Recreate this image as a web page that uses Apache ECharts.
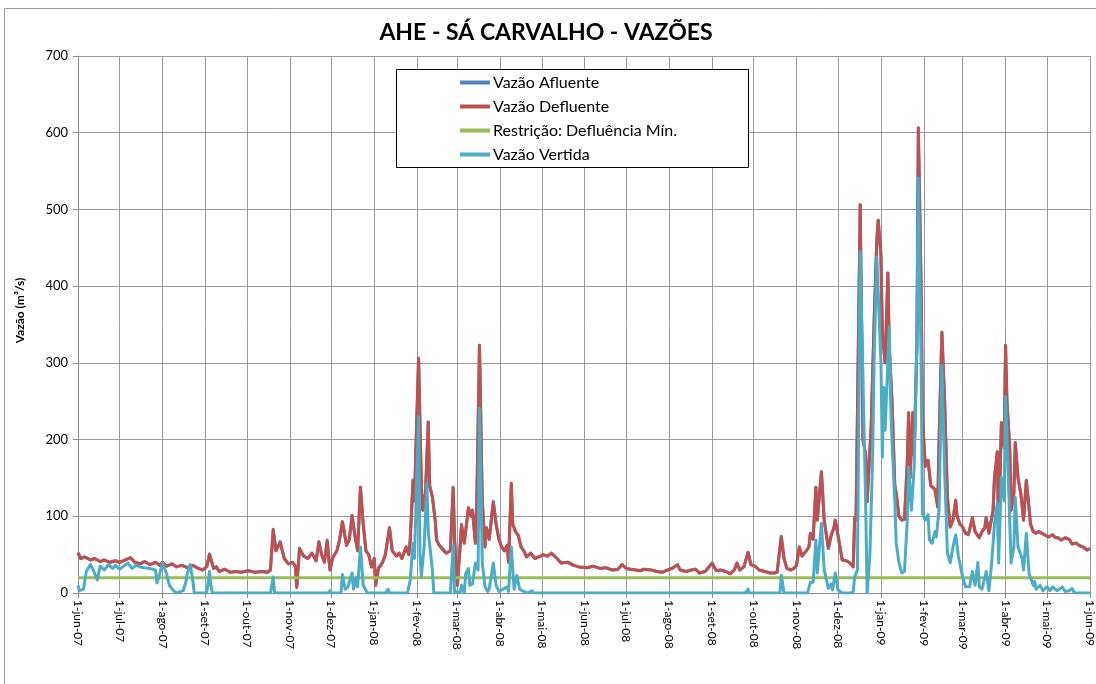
<!DOCTYPE html>
<html>
<head>
<meta charset="utf-8">
<script src="https://cdn.jsdelivr.net/npm/echarts@6/dist/echarts.min.js"></script>
<style>
html,body{margin:0;padding:0;background:#fff;}
#chart{width:1096px;height:684px;}
</style>
</head>
<body>
<div id="chart"></div>
<script>
// ---- data (day index from 1-jun-07, value in m3/s) ----
const meses = ['jan','fev','mar','abr','mai','jun','jul','ago','set','out','nov','dez'];
const nDias = 732; // 1-jun-07 .. 1-jun-09
const titulo = 'AHE - SÁ CARVALHO - VAZÕES';
const nomes = ['Vazão Afluente','Vazão Defluente','Restrição: Defluência Mín.','Vazão Vertida'];
const yTicks = [0,100,200,300,400,500,600,700];

const defluente = [[0,52],[2,45],[5,47],[9,43],[12,45],[16,41],[19,43],[23,40],[27,42],[30,40],[34,43],[38,46],[41,40],[45,38],[48,41],[52,37],[56,40],[59,36],[61,40],[64,35],[68,38],[71,34],[75,36],[79,33],[83,36],[87,32],[90,30],[93,34],[95,50],[98,32],[100,34],[102,28],[106,31],[110,27],[114,28],[118,27],[123,29],[128,27],[133,28],[137,27],[139,30],[141,82],[143,55],[146,66],[149,45],[152,38],[155,40],[157,35],[158,7],[160,58],[163,48],[166,45],[169,52],[172,42],[174,66],[176,50],[178,40],[180,68],[182,30],[184,46],[187,55],[189,70],[191,93],[194,62],[196,70],[198,101],[200,75],[202,55],[204,138],[206,90],[208,55],[210,50],[212,34],[214,45],[215,10],[217,32],[220,40],[222,50],[225,85],[227,55],[230,48],[232,52],[234,45],[237,60],[239,50],[240,70],[242,147],[243,120],[246,306],[248,140],[249,108],[251,130],[253,223],[254,140],[256,125],[258,95],[259,69],[261,62],[264,55],[266,52],[269,55],[271,137],[272,70],[274,10],[276,60],[277,89],[279,65],[282,111],[284,100],[285,108],[287,65],[288,112],[290,323],[292,120],[294,60],[295,85],[297,70],[300,119],[302,90],[304,70],[306,60],[308,55],[310,62],[311,40],[313,143],[314,90],[316,80],[318,75],[320,60],[322,55],[324,47],[327,52],[330,45],[333,47],[336,50],[339,48],[342,52],[346,45],[349,39],[354,40],[358,36],[362,34],[368,33],[372,35],[377,32],[381,33],[386,30],[390,31],[393,37],[396,32],[399,31],[403,30],[406,29],[409,31],[414,30],[418,28],[422,27],[426,30],[429,32],[433,37],[435,30],[439,28],[443,30],[446,31],[449,26],[453,28],[458,39],[461,29],[464,30],[468,28],[471,25],[474,30],[476,39],[478,30],[481,34],[484,53],[486,37],[489,35],[492,30],[496,28],[500,26],[503,26],[505,27],[508,73],[510,45],[512,32],[515,30],[517,32],[519,36],[521,60],[523,48],[526,55],[528,60],[529,78],[531,70],[533,138],[534,95],[537,158],[539,95],[542,58],[544,75],[546,85],[547,95],[549,75],[552,43],[555,42],[557,40],[560,34],[561,98],[562,95],[565,506],[567,200],[569,180],[570,119],[573,220],[575,350],[577,460],[578,486],[580,440],[581,339],[583,300],[585,417],[586,320],[588,250],[590,140],[591,130],[593,100],[595,95],[597,96],[599,170],[600,235],[601,150],[603,235],[604,180],[606,330],[607,606],[609,400],[610,230],[612,165],[613,164],[614,173],[616,140],[617,138],[619,135],[621,112],[622,200],[624,340],[626,250],[628,125],[630,86],[632,95],[634,121],[635,100],[637,90],[639,86],[641,78],[643,76],[644,82],[646,98],[648,80],[651,72],[653,80],[655,85],[656,98],[658,78],[661,108],[662,150],[664,184],[665,80],[667,222],[669,190],[670,323],[671,250],[673,190],[674,108],[676,130],[677,196],[679,150],[681,130],[683,95],[685,147],[687,110],[688,90],[690,80],[692,78],[694,80],[697,77],[699,75],[701,73],[704,76],[706,72],[708,72],[710,69],[713,72],[716,70],[718,64],[721,65],[723,62],[726,60],[729,56],[731,58]];

const afluente = [[0,53],[2,45],[5,47],[9,43],[12,45],[16,41],[19,43],[23,40],[27,42],[30,40],[34,43],[38,46],[41,40],[45,38],[48,41],[52,37],[56,40],[59,36],[61,40],[64,35],[68,38],[71,34],[75,36],[79,33],[83,36],[87,32],[90,30],[93,34],[95,51],[98,32],[100,34],[102,28],[106,31],[110,27],[114,28],[118,27],[123,29],[128,27],[133,28],[137,27],[139,30],[141,83],[143,55],[146,67],[149,45],[152,38],[155,40],[157,35],[158,8],[160,58],[163,48],[166,45],[169,52],[172,42],[174,67],[176,50],[178,40],[180,69],[182,30],[184,46],[187,55],[189,70],[191,93],[194,62],[196,70],[198,101],[200,75],[202,55],[204,138],[206,90],[208,55],[210,50],[212,34],[214,45],[215,10],[217,32],[220,40],[222,50],[225,85],[227,55],[230,48],[232,52],[234,45],[237,60],[239,50],[240,70],[242,147],[243,120],[246,306],[248,140],[249,108],[251,130],[253,223],[254,140],[256,125],[258,95],[259,69],[261,62],[264,57],[266,52],[269,55],[271,138],[272,70],[274,10],[276,60],[277,89],[279,65],[282,111],[284,100],[285,108],[287,65],[288,112],[290,323],[292,120],[294,60],[295,85],[297,70],[300,119],[302,90],[304,70],[306,60],[308,55],[310,62],[311,40],[313,143],[314,90],[316,80],[318,75],[320,60],[322,55],[324,47],[327,52],[330,45],[333,47],[336,50],[339,48],[342,52],[346,45],[349,39],[354,40],[358,36],[362,34],[368,33],[372,35],[377,32],[381,33],[386,30],[390,31],[393,37],[396,32],[399,31],[403,30],[406,29],[409,31],[414,30],[418,28],[422,27],[426,30],[429,32],[433,37],[435,30],[439,28],[443,30],[446,31],[449,26],[453,28],[458,39],[461,29],[464,30],[468,28],[471,25],[474,30],[476,39],[478,30],[481,34],[484,53],[486,37],[489,35],[492,30],[496,28],[500,26],[503,26],[505,27],[508,74],[510,45],[512,32],[515,30],[517,32],[519,36],[521,60],[523,48],[526,55],[528,60],[529,78],[531,70],[533,138],[534,95],[537,158],[539,95],[542,58],[544,75],[546,85],[547,95],[549,75],[552,43],[555,42],[557,40],[560,34],[561,98],[562,95],[565,506],[567,200],[569,180],[570,119],[573,220],[575,350],[577,460],[578,486],[580,440],[581,339],[583,300],[585,417],[586,320],[588,250],[590,140],[591,130],[593,100],[595,95],[597,96],[599,170],[600,235],[601,150],[603,235],[604,180],[606,330],[607,606],[609,400],[610,230],[612,165],[613,164],[614,173],[616,140],[617,138],[619,135],[621,112],[622,200],[624,340],[626,250],[628,125],[630,86],[632,95],[634,121],[635,100],[637,90],[639,86],[641,78],[643,76],[644,82],[646,98],[648,80],[651,72],[653,80],[655,85],[656,98],[658,78],[661,108],[662,150],[664,184],[665,80],[667,222],[669,190],[670,323],[671,250],[673,190],[674,108],[676,130],[677,196],[679,150],[681,130],[683,95],[685,147],[687,110],[688,90],[690,80],[692,78],[694,80],[697,77],[699,75],[701,73],[704,76],[706,72],[708,72],[710,69],[713,72],[716,70],[718,64],[721,65],[723,62],[726,60],[729,56],[731,58]];

const restricao = [[0,20],[731,20]];

const vertida = [[0,10],[1,3],[4,5],[6,28],[9,37],[11,30],[14,17],[16,35],[19,30],[22,37],[25,32],[27,36],[30,31],[33,35],[36,39],[39,32],[42,36],[45,34],[48,33],[52,32],[56,30],[57,13],[59,25],[61,39],[64,25],[66,10],[69,3],[71,0],[76,3],[78,15],[79,26],[81,37],[83,15],[84,0],[93,0],[95,28],[96,10],[97,0],[139,0],[141,21],[142,0],[181,0],[182,3],[183,0],[190,0],[191,24],[193,5],[195,8],[196,10],[198,26],[199,5],[201,20],[202,8],[204,60],[206,10],[209,0],[222,0],[224,5],[225,0],[238,0],[240,17],[242,65],[243,45],[246,230],[247,50],[248,21],[250,60],[252,143],[253,80],[256,30],[257,0],[269,0],[271,63],[272,0],[274,2],[276,0],[277,10],[279,0],[280,25],[282,32],[283,10],[285,12],[287,39],[289,30],[290,241],[292,40],[294,8],[296,2],[297,5],[300,39],[302,10],[304,2],[307,5],[310,8],[311,2],[313,60],[315,5],[317,23],[319,5],[322,2],[325,0],[328,3],[329,0],[482,0],[484,5],[485,0],[507,0],[508,23],[510,0],[527,0],[529,14],[531,14],[533,69],[534,26],[537,91],[539,30],[542,6],[544,12],[545,4],[547,26],[549,4],[552,0],[558,0],[560,2],[561,21],[563,30],[565,445],[567,280],[569,112],[570,0],[572,50],[574,177],[575,300],[577,438],[578,440],[580,300],[581,177],[582,268],[583,212],[586,347],[587,250],[588,196],[590,120],[591,65],[593,40],[595,26],[597,28],[599,95],[600,164],[602,108],[604,164],[606,326],[607,541],[609,300],[610,104],[612,95],[614,102],[615,69],[617,65],[619,80],[620,73],[622,110],[624,297],[626,160],[628,52],[630,39],[632,60],[634,76],[636,47],[638,30],[639,21],[641,8],[644,8],[646,28],[648,10],[650,40],[651,8],[653,5],[656,28],[658,3],[660,40],[662,90],[664,117],[665,39],[667,151],[669,120],[670,256],[672,150],[674,39],[676,60],[677,125],[679,60],[682,45],[683,30],[685,78],[687,25],[690,10],[691,15],[692,5],[695,10],[697,3],[700,8],[702,3],[704,8],[707,3],[709,5],[711,8],[713,2],[716,3],[718,6],[719,2],[721,0],[731,0]];

// ---- categories (one per day) ----
const dias = [];
for (let i = 0; i < nDias; i++) {
  const d = new Date(2007, 5, 1 + i);
  dias.push(d.getDate() + '-' + meses[d.getMonth()] + '-' + String(d.getFullYear()).slice(2));
}
const inicioMes = (idx, val) => String(val).indexOf('1-') === 0;

const FONT = 'Lato, "Open Sans", sans-serif';
const chart = echarts.init(document.getElementById('chart'), null, {renderer: 'canvas'});
chart.setOption({
  animation: false,
  backgroundColor: '#fff',
  title: {
    text: titulo, left: 541, top: 16, textAlign: 'center',
    textStyle: {fontFamily: FONT, fontWeight: 'bold', fontSize: 23, color: '#000'}
  },
  graphic: [
    {type: 'rect', z: 0, silent: true, shape: {x: 4.5, y: 8.5, width: 1100, height: 700},
     style: {fill: 'none', stroke: '#9a9a9a', lineWidth: 1}},
    {type: 'rect', z: 50, silent: true, shape: {x: 396.5, y: 69.5, width: 352, height: 98},
     style: {fill: '#fff', stroke: '#000', lineWidth: 1}}
  ],
  legend: {
    z: 60, orient: 'vertical', left: 460, top: 74, padding: 0,
    itemWidth: 30, itemHeight: 4, itemGap: 7, icon: 'rect',
    textStyle: {fontFamily: FONT, fontSize: 16, color: '#000', lineHeight: 17, padding: [0,0,0,-2]},
    data: nomes
  },
  grid: {left: 78, right: 6, top: 56, bottom: 91, containLabel: false},
  xAxis: {
    type: 'category', data: dias, boundaryGap: false,
    axisLine: {lineStyle: {color: '#8c8c8c', width: 1}},
    axisTick: {show: true, interval: inicioMes, length: 5, lineStyle: {color: '#8c8c8c'}},
    splitLine: {show: true, interval: inicioMes, lineStyle: {color: '#9a9a9a', width: 1}},
    axisLabel: {interval: inicioMes, rotate: -90, margin: 7, fontFamily: FONT, fontSize: 12, color: '#000'}
  },
  yAxis: {
    type: 'value', min: yTicks[0], max: yTicks[yTicks.length - 1], interval: 100,
    name: 'Vazão (m³/s)', nameLocation: 'middle', nameGap: 52,
    nameTextStyle: {fontFamily: FONT, fontWeight: 'bold', fontSize: 12, color: '#000', padding: [0,0,0,28]},
    axisLine: {show: true, lineStyle: {color: '#8c8c8c'}},
    axisTick: {show: true, length: 5, lineStyle: {color: '#8c8c8c'}},
    splitLine: {show: true, lineStyle: {color: '#9a9a9a', width: 1}},
    axisLabel: {margin: 10, fontFamily: FONT, fontSize: 13, color: '#000'}
  },
  series: [
    {name: nomes[0], type: 'line', data: afluente, showSymbol: false, z: 2,
     color: '#4F81BD', lineStyle: {width: 3, color: '#4F81BD', join: 'round'}},
    {name: nomes[1], type: 'line', data: defluente, showSymbol: false, z: 3,
     color: '#C0504D', lineStyle: {width: 3, color: '#C0504D', join: 'round'}},
    {name: nomes[2], type: 'line', data: restricao, showSymbol: false, z: 4,
     color: '#9BBB59', lineStyle: {width: 3, color: '#9BBB59'}},
    {name: nomes[3], type: 'line', data: vertida, showSymbol: false, z: 5,
     color: '#4BACC6', lineStyle: {width: 3, color: '#4BACC6', join: 'round'}}
  ]
});
</script>
</body>
</html>
